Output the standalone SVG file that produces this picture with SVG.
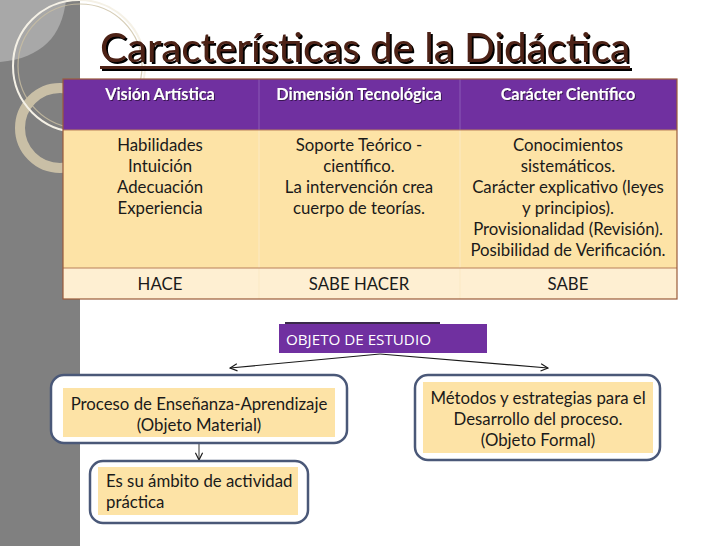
<svg xmlns="http://www.w3.org/2000/svg" width="728" height="546" viewBox="0 0 728 546">
<defs>
<style>
.t{font-family:Lato,"Liberation Sans",sans-serif;fill:#1a1a1a;font-size:16.8px}
.c{text-anchor:middle}
.h{font-family:Lato,"Liberation Sans",sans-serif;fill:#ffffff;font-size:16.2px;font-weight:bold;text-anchor:middle}
.box{fill:#ffffff;stroke:#4a5878;stroke-width:2.5}
.inner{fill:#fde3a6}
.con{stroke:#1a1a1a;stroke-width:1.2;fill:none}
</style>
<filter id="sh" x="-5%" y="-20%" width="110%" height="150%">
<feDropShadow dx="2" dy="2" stdDeviation="0.4" flood-color="#000000" flood-opacity="1"/>
</filter>
<filter id="hs" x="-5%" y="-20%" width="110%" height="150%">
<feDropShadow dx="1" dy="1" stdDeviation="0.5" flood-color="#2a1040" flood-opacity="0.8"/>
</filter>
<marker id="arr" viewBox="0 0 10 10" refX="9" refY="5" markerWidth="9" markerHeight="9" markerUnits="userSpaceOnUse" orient="auto">
<path d="M1,1 L9,5 L1,9" fill="none" stroke="#1a1a1a" stroke-width="1.3"/>
</marker>
</defs>
<rect width="728" height="546" fill="#ffffff"/>
<g id="background">
<rect x="0" y="0" width="80" height="546" fill="#808080"/>
<path d="M0,0 L66,0 C62,36 42,58 0,62 Z" fill="#a8a8a8"/>
<circle cx="60" cy="128" r="40" fill="none" stroke="#c9bfa6" stroke-width="10"/>
<circle cx="80" cy="66" r="62" fill="none" stroke="#cbbfa2" stroke-width="1.2" opacity="0.8"/>
<circle cx="79" cy="66" r="66" fill="none" stroke="#f5f1e6" stroke-width="2"/>
</g>
<g id="title" filter="url(#sh)">
<text x="100" y="62" font-family="Lato,'Liberation Sans',sans-serif" font-size="40" fill="#4e2418" textLength="530" lengthAdjust="spacingAndGlyphs">Características de la Didáctica</text>
<rect x="100" y="66" width="530" height="3" fill="#4e2418"/>
</g>
<g id="table">
<rect x="63" y="79" width="614" height="51" fill="#7030a0"/>
<rect x="63" y="130" width="614" height="138" fill="#fde3a6"/>
<rect x="63" y="268" width="614" height="31" fill="#feefd2"/>
<line x1="259" y1="79" x2="259" y2="130" stroke="#8a5bb5" stroke-width="1"/>
<line x1="460" y1="79" x2="460" y2="130" stroke="#8a5bb5" stroke-width="1"/>
<line x1="259" y1="130" x2="259" y2="299" stroke="#fbe9c4" stroke-width="1"/>
<line x1="460" y1="130" x2="460" y2="299" stroke="#fbe9c4" stroke-width="1"/>
<line x1="63" y1="268" x2="677" y2="268" stroke="#b9805a" stroke-width="1"/>
<line x1="63" y1="130" x2="677" y2="130" stroke="#b9805a" stroke-width="1"/>
<rect x="63" y="79" width="614" height="220" fill="none" stroke="#9a5a3a" stroke-width="1.2"/>
<g filter="url(#hs)">
<text class="h" x="160" y="100">Visión Artística</text>
<text class="h" x="359" y="100">Dimensión Tecnológica</text>
<text class="h" x="568" y="100">Carácter Científico</text>
</g>
<text class="t c" x="160" y="151">Habilidades</text>
<text class="t c" x="160" y="172">Intuición</text>
<text class="t c" x="160" y="193">Adecuación</text>
<text class="t c" x="160" y="214">Experiencia</text>
<text class="t c" x="359" y="151">Soporte Teórico -</text>
<text class="t c" x="359" y="172">científico.</text>
<text class="t c" x="359" y="193">La intervención crea</text>
<text class="t c" x="359" y="214">cuerpo de teorías.</text>
<text class="t c" x="568" y="151">Conocimientos</text>
<text class="t c" x="568" y="172">sistemáticos.</text>
<text class="t c" x="568" y="193">Carácter explicativo (leyes</text>
<text class="t c" x="568" y="214">y principios).</text>
<text class="t c" x="568" y="235">Provisionalidad (Revisión).</text>
<text class="t c" x="568" y="256">Posibilidad de Verificación.</text>
<text class="t c" x="160" y="290">HACE</text>
<text class="t c" x="359" y="290">SABE HACER</text>
<text class="t c" x="568" y="290">SABE</text>
</g>
<g id="objeto">
<rect x="285" y="322" width="155" height="3" fill="#3a2a4a"/>
<rect x="279" y="324" width="208" height="29" fill="#7030a0"/>
<text x="286" y="345" font-family="'Open Sans','Noto Sans',sans-serif" font-size="15.2" fill="#ffffff">OBJETO DE ESTUDIO</text>
</g>
<g id="connectors">
<line class="con" x1="380" y1="354" x2="230" y2="368" marker-end="url(#arr)"/>
<line class="con" x1="380" y1="354" x2="548" y2="368" marker-end="url(#arr)"/>
<line x1="199" y1="444" x2="199" y2="460" stroke="#7a7a7a" stroke-width="1.5" marker-end="url(#arr)"/>
</g>
<g id="proceso">
<rect class="box" x="51" y="375" width="296" height="68" rx="13"/>
<rect class="inner" x="63" y="388" width="272" height="49"/>
<text class="t c" x="199" y="410">Proceso de Enseñanza-Aprendizaje</text>
<text class="t c" x="199" y="431">(Objeto Material)</text>
</g>
<g id="ambito">
<rect class="box" x="90" y="461" width="218" height="62" rx="13"/>
<rect class="inner" x="98" y="467" width="200" height="48"/>
<text class="t" x="106" y="487">Es su ámbito de actividad</text>
<text class="t" x="106" y="508">práctica</text>
</g>
<g id="metodos">
<rect class="box" x="415" y="375" width="245" height="85" rx="13"/>
<rect class="inner" x="423" y="382" width="230" height="71"/>
<text class="t c" x="538" y="404">Métodos y estrategias para el</text>
<text class="t c" x="538" y="425">Desarrollo del proceso.</text>
<text class="t c" x="538" y="446">(Objeto Formal)</text>
</g>
</svg>
